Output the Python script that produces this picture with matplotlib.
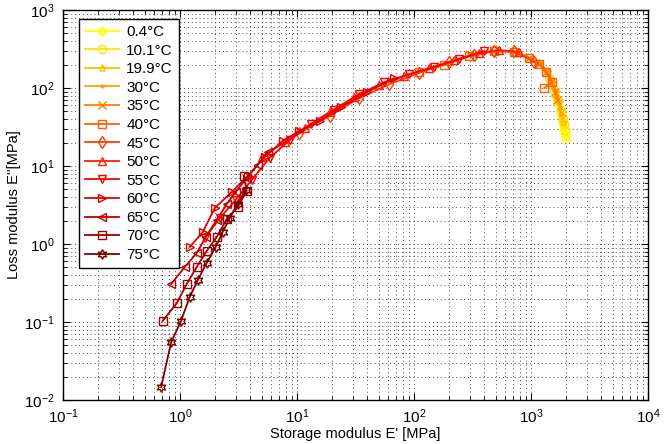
import numpy as np
import matplotlib
matplotlib.use("Agg")
import matplotlib.pyplot as plt

plt.rcParams['font.family'] = ['Liberation Sans', 'DejaVu Sans']
plt.rcParams['mathtext.fontset'] = 'custom'
plt.rcParams['mathtext.rm'] = 'Liberation Sans'
plt.rcParams['mathtext.it'] = 'Liberation Sans:italic'
plt.rcParams['mathtext.bf'] = 'Liberation Sans:bold'

# temperatures and measured moduli (MPa), one sweep per temperature
temps = ['0.4°C', '10.1°C', '19.9°C', '30°C', '35°C', '40°C', '45°C',
         '50°C', '55°C', '60°C', '65°C', '70°C', '75°C']

E1_04 = [1609, 1707, 1775, 1846, 1883, 1920, 1958, 1977]
E2_04 = [79, 62.3, 49.3, 38.9, 32.6, 28.1, 25.0, 22.9]

E1_10 = [1430, 1577, 1707, 1810, 1883, 1920, 1958]
E2_10 = [134, 94.3, 70.2, 52.2, 41.3, 34.6, 28.9]

E1_20 = [1175, 1375, 1517, 1641, 1741, 1810, 1846, 1883]
E2_20 = [209, 160, 119, 88.9, 66.2, 52.2, 43.8, 36.7]

E1_30 = [793, 1004, 1222, 1402, 1546, 1641, 1707, 1775, 1810]
E2_30 = [281, 243, 203, 160, 119, 88.9, 70.2, 55.4, 46.4]

E1_35 = [297, 485, 719, 966, 1175, 1349, 1487, 1611, 1674]
E2_35 = [273, 298, 289, 243, 203, 160, 119, 88.9, 70.2]

E1_40 = [111, 182, 297, 485, 719, 966, 1175, 1349, 1517, 1297]
E2_40 = [160, 197, 257, 298, 289, 243, 203, 160, 119, 100]

E1_45 = [10.5, 19.0, 34.2, 61.7, 111, 200, 328, 485, 719, 1065]
E2_45 = [26.5, 43.8, 74.4, 112, 156, 215, 265, 298, 298, 215]

E1_50 = [4.99, 7.84, 11.6, 19.0, 31.0, 50.7, 82.8, 135, 221, 361, 535, 793]
E2_50 = [13.0, 20.3, 30.7, 49.3, 76.7, 109, 142, 180, 228, 281, 307, 289]

E1_55 = [1.63, 2.19, 2.99, 4.10, 5.84, 8.65, 13.3, 20.9, 34.2, 55.9, 91.4, 149, 244, 399]
E2_55 = [1.19, 2.15, 3.67, 6.61, 12.7, 21.5, 34.6, 52.2, 83.8, 119, 151, 186, 235, 298]

E1_60 = [1.21, 1.57, 1.98, 2.77, 3.79, 5.29, 7.54, 10.5, 15.6, 24.0, 40.0, 68.0]
E2_60 = [0.915, 1.43, 2.89, 4.64, 7.45, 13.0, 20.9, 28.1, 37.8, 57.0, 88.9, 134]

E1_65 = [0.84, 1.10, 1.39, 1.66, 2.06, 2.51, 2.99, 3.72, 4.61, 5.61]
E2_65 = [0.307, 0.507, 0.767, 1.23, 2.03, 3.26, 4.64, 7.02, 10.3, 15.1]

E1_70 = [0.71, 0.94, 1.14, 1.39, 1.69, 2.06, 2.51, 3.11, 3.72, 3.50]
E2_70 = [0.103, 0.175, 0.307, 0.507, 0.813, 1.23, 2.09, 2.98, 4.78, 7.45]

E1_75 = [0.69, 0.84, 1.02, 1.21, 1.42, 1.69, 2.02, 2.32, 2.66, 3.11, 3.64]
E2_75 = [0.0147, 0.055, 0.103, 0.209, 0.345, 0.571, 0.915, 1.43, 2.16, 3.26, 4.92]

storage = [E1_04, E1_10, E1_20, E1_30, E1_35, E1_40, E1_45,
           E1_50, E1_55, E1_60, E1_65, E1_70, E1_75]
loss = [E2_04, E2_10, E2_20, E2_30, E2_35, E2_40, E2_45,
        E2_50, E2_55, E2_60, E2_65, E2_70, E2_75]

colors = ['#ffff00', '#ffe000', '#ffc000', '#ffa000', '#ff8000', '#ff6000',
          '#ff4000', '#ff2000', '#ff0000', '#e00000', '#c00000', '#a00000',
          '#800000']
hexstar = (6, 1, 0)
markers = [hexstar, 'o', '*', '.', 'x', 's', 'd', '^', 'v', '>', '<', 's', hexstar]
msizes = [7, 6, 6, 4, 6, 6, 6, 6, 6, 6, 6, 6, 7]

fig = plt.figure(figsize=(6.68, 4.44), dpi=100)
ax = fig.add_axes([63 / 668, 44 / 444, 585 / 668, 390 / 444])

for i in range(len(temps)):
    ax.plot(storage[i], loss[i], color=colors[i], marker=markers[i],
            markersize=msizes[i], markerfacecolor='none',
            markeredgecolor=colors[i], markeredgewidth=1.0,
            linewidth=1.3, label=temps[i])

ax.set_xscale('log')
ax.set_yscale('log')
ax.set_xlim(1e-1, 1e4)
ax.set_ylim(1e-2, 1e3)

ax.grid(True, which='both', linestyle=(0, (1, 3)), color='0.3', linewidth=0.7)
ax.tick_params(which='both', direction='in', top=True, right=True,
               labelsize=11)
ax.tick_params(axis='x', which='major', pad=5)
ax.tick_params(axis='y', which='major', pad=6)
ax.tick_params(which='major', length=5)
ax.tick_params(which='minor', length=3)
for s in ax.spines.values():
    s.set_linewidth(1.0)

ax.set_xlabel("Storage modulus E' [MPa]", fontsize=10.5, labelpad=1)
ax.set_ylabel("Loss modulus E''[MPa]", fontsize=10.5, labelpad=2)

leg = ax.legend(loc='upper left', bbox_to_anchor=(0.027, 0.977),
                borderaxespad=0, fontsize=11, fancybox=False,
                edgecolor='black', framealpha=1, labelspacing=0.3,
                handlelength=2.2, handletextpad=0.5)
leg.get_frame().set_linewidth(1.0)

fig.savefig('out.png', dpi=100)
